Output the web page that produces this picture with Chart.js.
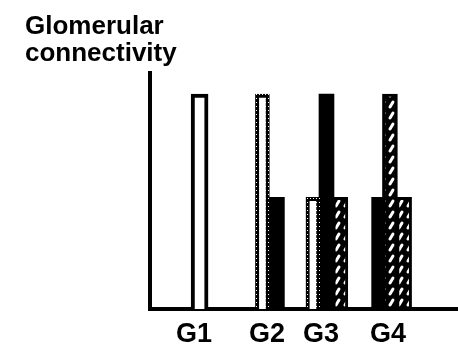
<!DOCTYPE html>
<html>
<head>
<meta charset="utf-8">
<script src="https://cdn.jsdelivr.net/npm/chart.js@4.4.0/dist/chart.umd.min.js"></script>
<style>
  html, body { margin: 0; padding: 0; background: #fff; }
  #chart { display: block; }
</style>
</head>
<body>
<canvas id="chart" width="458" height="347"></canvas>
<script>
// Category labels and where they sit on the x axis (axis units 0-10)
const categories = ['G1', 'G2', 'G3', 'G4'];
const labelX = [1.43, 3.8, 5.55, 7.73];

// Bars by fill style: x position and connectivity value
const openX = [1.61];
const openY = [2];
const dottedX = [3.65, 5.29];
const dottedY = [2, 1.04];
const blackX = [4.12, 5.73, 7.44];
const blackY = [1.04, 2, 1.04];
const hatchX = [6.18, 7.79, 8.25];
const hatchY = [1.04, 2, 1.04];

const FONT = "'Liberation Sans', Arial, sans-serif";

const points = (xs, ys) => xs.map((x, i) => ({ x: x, y: ys[i] }));

function makePattern(w, h, draw) {
  const c = document.createElement('canvas');
  c.width = w;
  c.height = h;
  const g = c.getContext('2d');
  draw(g);
  return g.createPattern(c, 'repeat');
}

// black with white slanted dashes
const hatchPattern = makePattern(9, 11, g => {
  g.fillStyle = '#000';
  g.fillRect(0, 0, 9, 11);
  g.strokeStyle = '#fff';
  g.lineWidth = 3;
  g.lineCap = 'round';
  g.beginPath();
  g.moveTo(3, 8);
  g.lineTo(6, 3);
  g.stroke();
});

// black edge with small white specks
const dotPattern = makePattern(3, 4, g => {
  g.fillStyle = '#000';
  g.fillRect(0, 0, 3, 4);
  g.fillStyle = '#fff';
  g.fillRect(1, 2, 1, 1);
});

const ctx = document.getElementById('chart').getContext('2d');

new Chart(ctx, {
  type: 'bar',
  data: {
    datasets: [
      {
        label: 'Open',
        data: points(openX, openY),
        backgroundColor: '#fff',
        borderColor: '#000',
        borderWidth: 4,
        barThickness: 17,
        grouped: false,
      },
      {
        label: 'Dotted',
        data: points(dottedX, dottedY),
        backgroundColor: '#fff',
        borderColor: dotPattern,
        borderWidth: 4,
        barThickness: 14,
        grouped: false,
      },
      {
        label: 'Hatched',
        data: points(hatchX, hatchY),
        backgroundColor: hatchPattern,
        borderColor: '#000',
        borderWidth: 3,
        barThickness: 15,
        grouped: false,
      },
      {
        label: 'Black',
        data: points(blackX, blackY),
        backgroundColor: '#000',
        borderColor: '#000',
        borderWidth: 0,
        barThickness: 15,
        grouped: false,
      },
    ],
  },
  options: {
    responsive: false,
    animation: false,
    layout: { padding: { left: 25, right: 0, top: 0, bottom: 0 } },
    plugins: {
      legend: { display: false },
      tooltip: { enabled: false },
      title: {
        display: true,
        text: ['Glomerular', 'connectivity'],
        align: 'start',
        color: '#000',
        font: { family: FONT, size: 26, weight: 'bold', lineHeight: 1.05 },
        padding: { top: 13, bottom: 5 },
      },
    },
    scales: {
      x: {
        type: 'linear',
        min: 0,
        max: 10,
        offset: false,
        grid: { display: false },
        border: { display: true, color: '#000', width: 4 },
        afterBuildTicks: scale => {
          scale.ticks = labelX.map(v => ({ value: v }));
        },
        afterFit: scale => {
          scale.height = 38;
        },
        ticks: {
          autoSkip: false,
          maxRotation: 0,
          color: '#000',
          padding: 1,
          font: { family: FONT, size: 27, weight: 'bold' },
          callback: (value, index) => categories[index],
        },
      },
      y: {
        min: 0,
        max: 2.2,
        grid: { display: false },
        border: { display: true, color: '#000', width: 4 },
        ticks: { display: false },
        afterFit: scale => {
          scale.width = 125;
        },
      },
    },
  },
});
</script>
</body>
</html>
